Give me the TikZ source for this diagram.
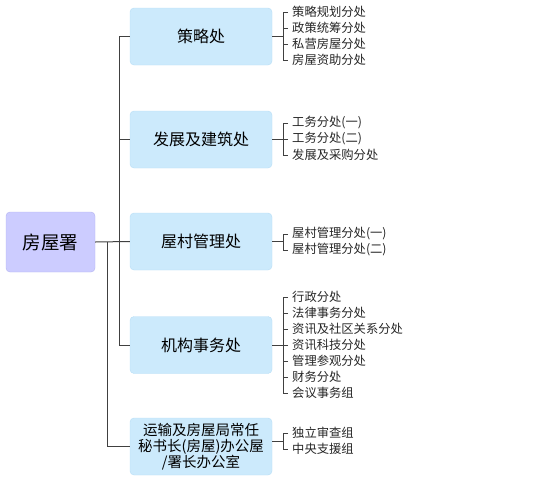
\documentclass[tikz,border=0pt]{standalone}
\usepackage{fontspec}
\newfontfamily\cjk{Noto Sans CJK SC}
\usetikzlibrary{positioning,calc}

\definecolor{rootfill}{RGB}{204,204,255}
\definecolor{rootline}{RGB}{180,180,240}
\definecolor{deptfill}{RGB}{204,234,252}
\definecolor{deptline}{RGB}{184,222,246}

\begin{document}
\begin{tikzpicture}[x=1pt, y=-1pt,
    rootbox/.style={rectangle, rounded corners=4pt, draw=rootline, fill=rootfill, minimum width=89pt, minimum height=60pt, font=\cjk\fontsize{18.5}{20}\selectfont},
    deptbox/.style={rectangle, rounded corners=4pt, draw=deptline, fill=deptfill, minimum width=142pt, minimum height=57pt, align=center, font=\cjk\fontsize{16}{18}\selectfont},
    unit/.style={anchor=west, inner xsep=4pt, inner ysep=0pt, text=black!85, font=\cjk\fontsize{12.3}{14}\selectfont},
    link/.style={draw=black!75, line width=1pt}
]
\useasboundingbox (0,0) rectangle (535,482);

% Root
\node[rootbox] (root) at (50.5, 242) {房屋署};

% Departments
\node[deptbox] (cl) at (201, 36.5) {策略处};
\node[deptbox] (fz) at (201, 139.5) {发展及建筑处};
\node[deptbox] (wc) at (201, 241.5) {屋村管理处};
\node[deptbox] (jg) at (201, 345) {机构事务处};
\node[deptbox, font=\cjk\fontsize{14.5}{16}\selectfont] (ys) at (201, 446.5) {运输及房屋局常任\\秘书长(房屋)办公屋\\/署长办公室};

% Main tree
\coordinate (ja) at (119, 0);
\coordinate (jb) at (107, 0);
\draw[link] (root.east) -- (wc.west);
\draw[link] (cl.west) -- (cl.west -| ja) -- (jg.west -| ja) -- (jg.west);
\draw[link] (fz.west) -- (fz.west -| ja);
\draw[link] (root.east -| jb) -- (ys.west -| jb) -- (ys.west);

% Sub units
\node[unit] (cl1) at (288, 12) {策略规划分处};
\node[unit] (cl2) at (288, 28) {政策统筹分处};
\node[unit] (cl3) at (288, 44) {私营房屋分处};
\node[unit] (cl4) at (288, 60) {房屋资助分处};

\node[unit] (fz1) at (288, 123) {工务分处(一)};
\node[unit] (fz2) at (288, 139) {工务分处(二)};
\node[unit] (fz3) at (288, 155) {发展及采购分处};

\node[unit] (wc1) at (288, 234) {屋村管理分处(一)};
\node[unit] (wc2) at (288, 250) {屋村管理分处(二)};

\node[unit] (jg1) at (288, 297) {行政分处};
\node[unit] (jg2) at (288, 313) {法律事务分处};
\node[unit] (jg3) at (288, 329) {资讯及社区关系分处};
\node[unit] (jg4) at (288, 345) {资讯科技分处};
\node[unit] (jg5) at (288, 361) {管理参观分处};
\node[unit] (jg6) at (288, 377) {财务分处};
\node[unit] (jg7) at (288, 393) {会议事务组};

\node[unit] (ys1) at (288, 433) {独立审查组};
\node[unit] (ys2) at (288, 449) {中央支援组};

% Brackets
\coordinate (kx) at (283, 0);
\draw[link] (cl.east) -- (cl.east -| kx);
\draw[link] (cl1.west) -- (cl1.west -| kx) -- (cl4.west -| kx) -- (cl4.west);
\foreach \i in {2,3} \draw[link] (cl\i.west) -- (cl\i.west -| kx);

\draw[link] (fz.east) -- (fz.east -| kx);
\draw[link] (fz1.west) -- (fz1.west -| kx) -- (fz3.west -| kx) -- (fz3.west);
\draw[link] (fz2.west) -- (fz2.west -| kx);

\draw[link] (wc.east) -- (wc.east -| kx);
\draw[link] (wc1.west) -- (wc1.west -| kx) -- (wc2.west -| kx) -- (wc2.west);

\draw[link] (jg.east) -- (jg.east -| kx);
\draw[link] (jg1.west) -- (jg1.west -| kx) -- (jg7.west -| kx) -- (jg7.west);
\foreach \i in {2,...,6} \draw[link] (jg\i.west) -- (jg\i.west -| kx);

\coordinate (ym) at ($(ys1.west)!0.5!(ys2.west)$);
\draw[link] (ys.east |- ym) -- (ym -| kx);
\draw[link] (ys1.west) -- (ys1.west -| kx) -- (ys2.west -| kx) -- (ys2.west);

\end{tikzpicture}
\end{document}
